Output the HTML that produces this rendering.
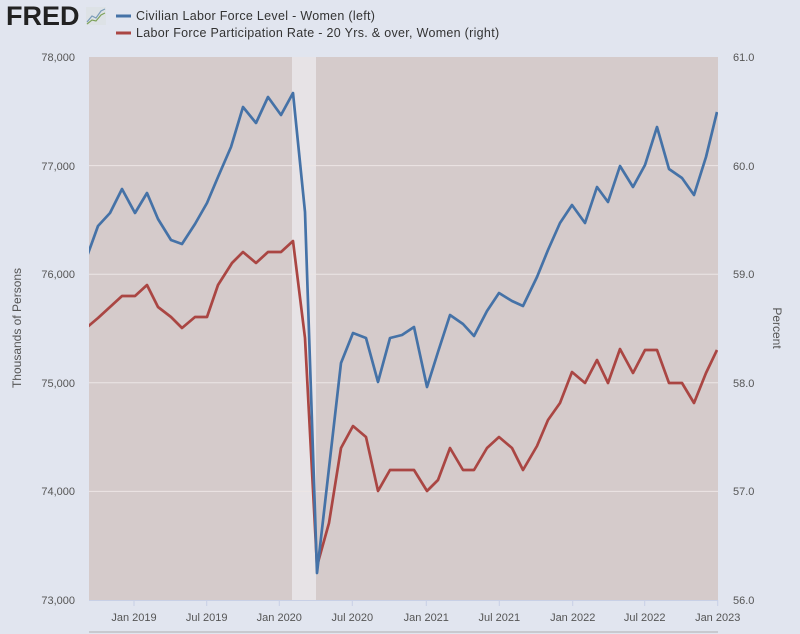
<!DOCTYPE html>
<html><head><meta charset="utf-8"><style>
html,body{margin:0;padding:0;background:#e1e5ef;}
svg{display:block;font-family:"Liberation Sans",sans-serif;}
</style></head><body>
<svg width="800" height="634" viewBox="0 0 800 634" xmlns="http://www.w3.org/2000/svg">
<rect width="800" height="634" fill="#e1e5ef"/>
<defs><clipPath id="c"><rect x="89" y="57" width="629" height="543"/></clipPath></defs>
<rect x="89" y="57" width="629" height="543" fill="#d5cbcb"/>
<rect x="292" y="57" width="24" height="543" fill="#e7e3e6"/>
<g stroke="#ece6e6" stroke-width="1">
<line x1="89" y1="165.6" x2="718" y2="165.6"/>
<line x1="89" y1="274.2" x2="718" y2="274.2"/>
<line x1="89" y1="382.8" x2="718" y2="382.8"/>
<line x1="89" y1="491.4" x2="718" y2="491.4"/>
</g>
<line x1="89" y1="600.5" x2="718" y2="600.5" stroke="#c8d0e6" stroke-width="1"/>
<g stroke="#c8d0e6" stroke-width="1">
<line x1="134" y1="600" x2="134" y2="606"/><line x1="206.7" y1="600" x2="206.7" y2="606"/>
<line x1="279.3" y1="600" x2="279.3" y2="606"/><line x1="352.3" y1="600" x2="352.3" y2="606"/>
<line x1="426.3" y1="600" x2="426.3" y2="606"/><line x1="499.3" y1="600" x2="499.3" y2="606"/>
<line x1="572.7" y1="600" x2="572.7" y2="606"/><line x1="644.7" y1="600" x2="644.7" y2="606"/>
<line x1="717.7" y1="600" x2="717.7" y2="606"/>
</g>
<line x1="89" y1="632" x2="718" y2="632" stroke="#c8c9cf" stroke-width="2"/>
<g clip-path="url(#c)" fill="none" stroke-width="2.7" stroke-linejoin="round">
<polyline stroke="#aa4643" points="85,329 98,318 110,307 122,296 135,296 147,285 158,307 171,317 182,328 195,317 207,317 218,285 232,263 243,252 256,263 268,252 281,252 293,241 305,338 317,566 329,523 341,448 353,426 366,437 378,491 390,470 402,470 414,470 427,491 438,480 450,448 463,470 474,470 487,448 499,437 512,448 523,470 537,446 548,420 560,403 572,372 585,383 597,360 608,383 620,349 633,373 645,350 657,350 669,383 682,383 694,403 706,373 717,350"/>
<polyline stroke="#4572a7" points="85,262 98,226 110,213 122,189 135,213 147,193 158,219 171,240 182,244 195,224 207,203 218,177 231,147 243,107 256,123 268,97 281,115 293,93 305,212 317,573 329,468 341,363 353,333 366,338 378,382 390,338 402,335 414,327 427,387 438,352 450,315 463,324 474,336 487,311 499,293 512,301 523,306 537,277 548,250 560,223 572,205 585,223 597,187 608,202 620,166 633,187 645,165 657,127 669,169 682,178 694,195 706,157 717,112"/>
</g>
<g font-size="11" fill="#555" text-anchor="end">
<text x="75" y="61">78,000</text><text x="75" y="170">77,000</text>
<text x="75" y="278">76,000</text><text x="75" y="387">75,000</text>
<text x="75" y="495">74,000</text><text x="75" y="604">73,000</text>
</g>
<g font-size="11" fill="#555">
<text x="733" y="61">61.0</text><text x="733" y="170">60.0</text>
<text x="733" y="278">59.0</text><text x="733" y="387">58.0</text>
<text x="733" y="495">57.0</text><text x="733" y="604">56.0</text>
</g>
<g font-size="11" fill="#555" text-anchor="middle">
<text x="134" y="621">Jan 2019</text><text x="206.7" y="621">Jul 2019</text>
<text x="279.3" y="621">Jan 2020</text><text x="352.3" y="621">Jul 2020</text>
<text x="426.3" y="621">Jan 2021</text><text x="499.3" y="621">Jul 2021</text>
<text x="572.7" y="621">Jan 2022</text><text x="644.7" y="621">Jul 2022</text>
<text x="717.7" y="621">Jan 2023</text>
</g>
<text transform="translate(21,328) rotate(-90)" font-size="12" fill="#555" text-anchor="middle">Thousands of Persons</text>
<text transform="translate(773,328) rotate(90)" font-size="12" fill="#555" text-anchor="middle">Percent</text>
<text x="6" y="25" font-size="27" font-weight="bold" fill="#222">FRED</text>
<rect x="86" y="7" width="20" height="18" fill="#dde2e6"/>
<polyline points="87,22 92,16 96,18 101,11 105,9" fill="none" stroke="#7a9cb8" stroke-width="1.2"/>
<polyline points="87,24 92,20 96,21 101,15 105,13" fill="none" stroke="#7ea25a" stroke-width="1.2"/>
<line x1="116" y1="16" x2="131" y2="16" stroke="#4572a7" stroke-width="3"/>
<line x1="116" y1="33" x2="131" y2="33" stroke="#aa4643" stroke-width="3"/>
<g font-size="12.5" fill="#333" letter-spacing="0.3">
<text x="136" y="20">Civilian Labor Force Level - Women (left)</text>
<text x="136" y="37">Labor Force Participation Rate - 20 Yrs. &amp; over, Women (right)</text>
</g>
</svg>
</body></html>
